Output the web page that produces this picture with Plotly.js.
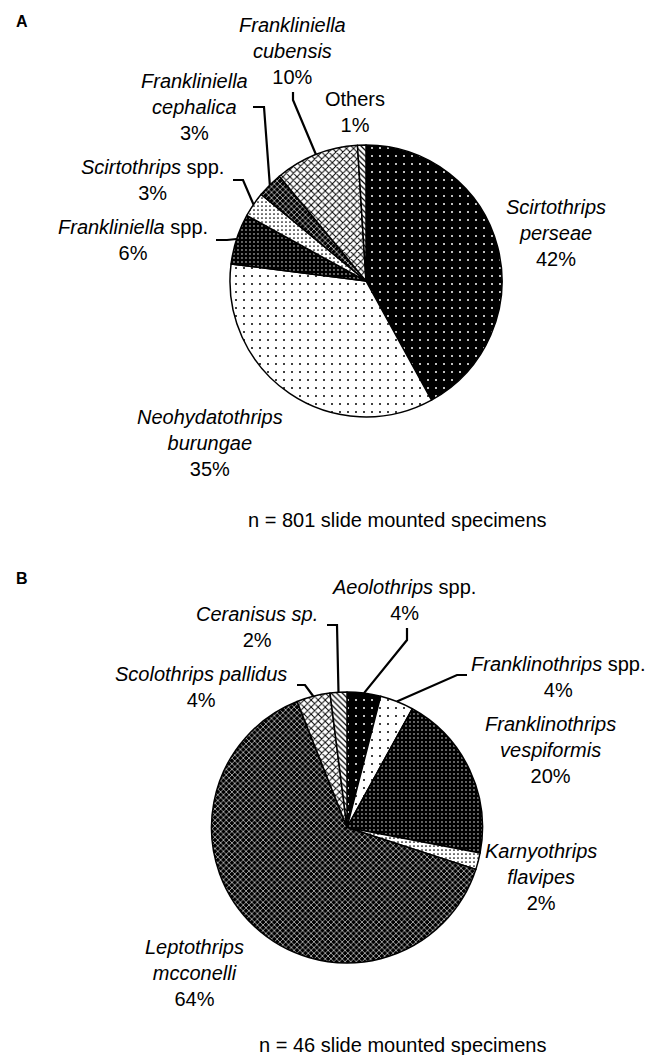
<!DOCTYPE html>
<html><head><meta charset="utf-8">
<script src="https://cdn.plot.ly/plotly-3.0.1.min.js"></script>
<style>html,body{margin:0;padding:0;background:#fff}#chart{width:665px;height:1055px}</style>
</head><body><div id="chart"></div>
<script>
// ---------- DATA ----------
const speciesA = ["Scirtothrips perseae","Neohydatothrips burungae","Frankliniella spp.","Scirtothrips spp.","Frankliniella cephalica","Frankliniella cubensis","Others"];
const percentA = [42,35,6,3,3,10,1];
const nA = 801;
const speciesB = ["Aeolothrips spp.","Franklinothrips spp.","Franklinothrips vespiformis","Karnyothrips flavipes","Leptothrips mcconelli","Scolothrips pallidus","Ceranisus sp."];
const percentB = [4,4,20,2,64,4,2];
const nB = 46;

// ---------- LABEL TEXT (formatting) ----------
const labelTextA = ["<i>Scirtothrips</i><br><i>perseae</i>","<i>Neohydatothrips</i><br><i>burungae</i>","<i>Frankliniella</i> spp.","<i>Scirtothrips</i> spp.","<i>Frankliniella</i><br><i>cephalica</i>","<i>Frankliniella</i><br><i>cubensis</i>","Others"];
const labelTextB = ["<i>Aeolothrips</i> spp.","<i>Franklinothrips</i> spp.","<i>Franklinothrips</i><br><i>vespiformis</i>","<i>Karnyothrips</i><br><i>flavipes</i>","<i>Leptothrips</i><br><i>mcconelli</i>","<i>Scolothrips pallidus</i>","<i>Ceranisus sp.</i>"];

// ---------- STYLE ----------
const W = 665, H = 1055;
const FONT = "Liberation Sans, Arial, Helvetica, sans-serif";
const pieA = {cx:366, cy:281, r:136};
const pieB = {cx:347, cy:827.5, r:135.5};
const patA = {
  shape:   [".", ".", ".", ".", "x", "x", "\\"],
  bgcolor: ["#000","#fff","#000","#fff","#000","#fff","#fff"],
  fgcolor: ["#fff","#000","#fff","#000","#fff","#000","#000"],
  size:    [8, 8, 4, 4, 4, 5, 4],
  solidity:[0.05,0.05,0.1,0.15,0.28,0.35,0.3]
};
const patB = {
  shape:   [".", ".", ".", ".", "x", "x", "\\"],
  bgcolor: ["#000","#fff","#000","#fff","#000","#fff","#fff"],
  fgcolor: ["#fff","#000","#fff","#000","#fff","#000","#000"],
  size:    [8, 8, 4, 4, 4, 5, 4],
  solidity:[0.05,0.05,0.1,0.15,0.28,0.35,0.3]
};
// label block centres (px) and leader elbows (px), null = no leader
const labPosA = [[556,233],[210,443],[133,240],[152,180],[194,107],[292,51],[355,112]];
const leadA = [null,null,[[216,240],[227,240]],[[233,180],[243,180]],[[253,107],[264,107]],[[293,92],[293,100]],null];
const labPosB = [[404,600],[558,677],[550,750],[541,877],[194,973],[201,687],[257,627]];
const leadB = [[[407,628],[407,640]],[[467,675],[457,675]],null,null,null,[[297,685],[305,685]],[[327,625],[337,625]]];

const px = x => x / W, py = y => 1 - y / H;
function domainOf(p){ return {x:[px(p.cx-p.r), px(p.cx+p.r)], y:[py(p.cy+p.r), py(p.cy-p.r)]}; }

function pieTrace(vals, names, pat, geom){
  return {
    type:"pie", values:vals, labels:names, sort:false, direction:"clockwise", rotation:0,
    textinfo:"none", hoverinfo:"none", showlegend:false,
    domain: domainOf(geom),
    marker:{ colors: pat.bgcolor, line:{color:"#000", width:1.5},
      pattern:{shape:pat.shape, bgcolor:pat.bgcolor, fgcolor:pat.fgcolor, size:pat.size, solidity:pat.solidity, fillmode:"replace"} }
  };
}

function edgePoint(vals, i, geom){
  const tot = vals.reduce((a,b)=>a+b,0);
  let cum = 0; for (let k=0;k<i;k++) cum += vals[k];
  const th = 2*Math.PI*(cum + vals[i]/2)/tot;
  return [geom.cx + geom.r*Math.sin(th), geom.cy - geom.r*Math.cos(th)];
}

const annotations = [], shapes = [];
function addLabels(vals, texts, pos, leads, geom){
  vals.forEach((v,i)=>{
    annotations.push({xref:"paper", yref:"paper", x:px(pos[i][0]), y:py(pos[i][1]),
      xanchor:"center", yanchor:"middle", showarrow:false, align:"center",
      text: texts[i] + "<br>" + v + "%", font:{family:FONT, size:20, color:"#000"}});
    if (leads[i]){
      const pts = leads[i].concat([edgePoint(vals, i, geom)]);
      const d = pts.map((p,k)=>(k?"L":"M")+px(p[0]).toFixed(5)+","+py(p[1]).toFixed(5)).join(" ");
      shapes.push({type:"path", xref:"paper", yref:"paper", path:d, line:{color:"#000", width:2.2}});
    }
  });
}
addLabels(percentA, labelTextA, labPosA, leadA, pieA);
addLabels(percentB, labelTextB, labPosB, leadB, pieB);

annotations.push({xref:"paper", yref:"paper", x:px(22), y:py(22), xanchor:"center", yanchor:"middle", showarrow:false,
  text:"<b>A</b>", font:{family:FONT, size:16, color:"#000"}});
annotations.push({xref:"paper", yref:"paper", x:px(22), y:py(578), xanchor:"center", yanchor:"middle", showarrow:false,
  text:"<b>B</b>", font:{family:FONT, size:16, color:"#000"}});
annotations.push({xref:"paper", yref:"paper", x:px(397), y:py(520), xanchor:"center", yanchor:"middle", showarrow:false,
  text:"n = " + nA + " slide mounted specimens", font:{family:FONT, size:20, color:"#000"}});
annotations.push({xref:"paper", yref:"paper", x:px(402), y:py(1045), xanchor:"center", yanchor:"middle", showarrow:false,
  text:"n = " + nB + " slide mounted specimens", font:{family:FONT, size:20, color:"#000"}});

const layout = {width:W, height:H, margin:{l:0,r:0,t:0,b:0}, paper_bgcolor:"#fff", plot_bgcolor:"#fff",
  showlegend:false, annotations:annotations, shapes:shapes};
Plotly.newPlot("chart", [pieTrace(percentA, speciesA, patA, pieA), pieTrace(percentB, speciesB, patB, pieB)], layout, {staticPlot:true});
</script></body></html>
